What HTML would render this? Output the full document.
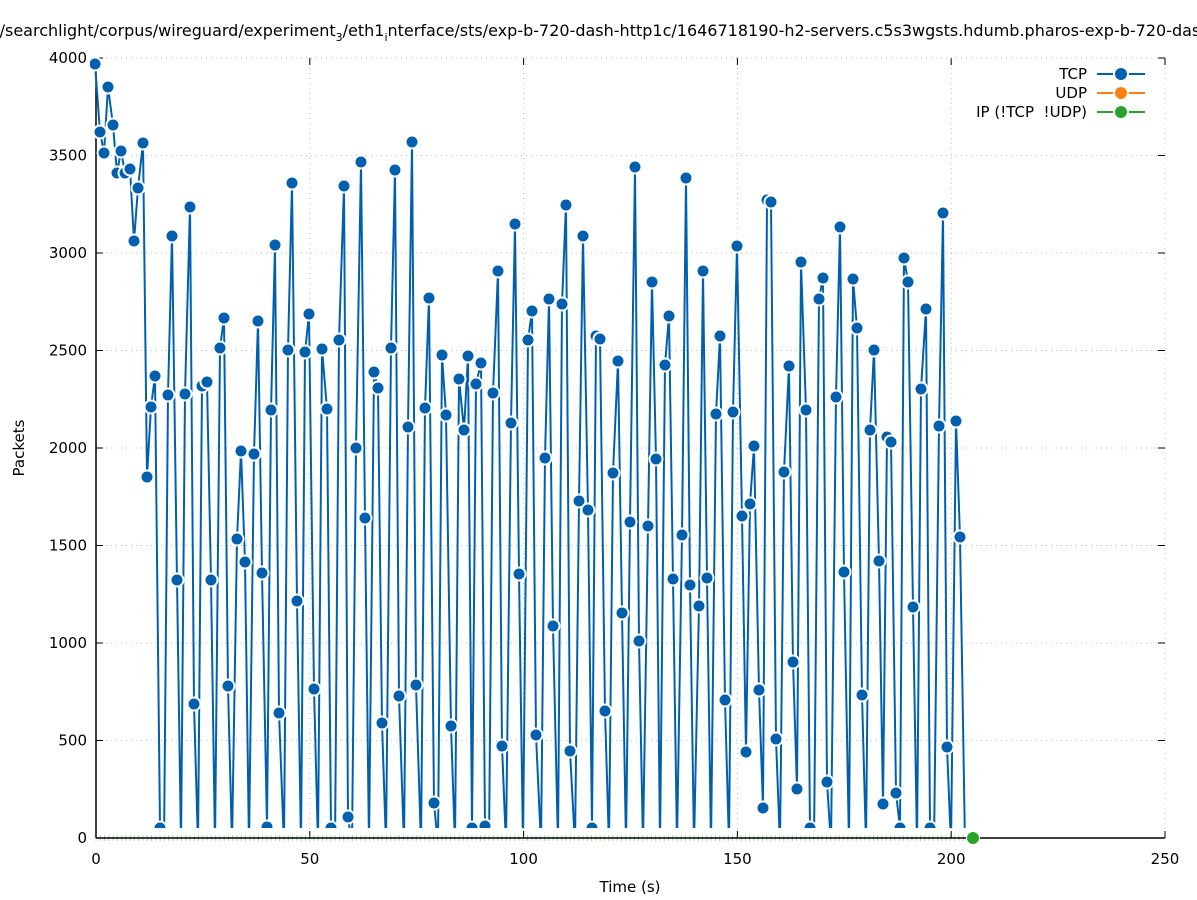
<!DOCTYPE html><html><head><meta charset="utf-8"><style>body{margin:0;background:#fff}svg{display:block;font-family:"DejaVu Sans","Liberation Sans",sans-serif}</style></head><body>
<svg id="s" width="1197" height="900" viewBox="0 0 1197 900"></svg>
<script>
const d=`95,64 100,132 104,153 108,87 113,125 117,173 121,151 125,173 130,169 134,241 138,188 143,143 147,477 151,407 155,376 160,828 164,845 168,395 172,236 177,580 181,845 185,394 190,207 194,704 198,845 202,386 207,382 211,580 215,845 220,348 224,318 228,686 232,845 237,539 241,451 245,562 249,845 254,454 258,321 262,573 267,827 271,410 275,245 279,713 284,845 288,350 292,183 297,601 301,845 305,352 309,314 314,689 318,845 322,349 327,409 331,828 335,845 339,340 344,186 348,817 352,845 356,448 361,162 365,518 369,845 374,372 378,388 382,723 386,845 391,348 395,170 399,696 404,845 408,427 412,142 416,685 421,845 425,408 429,298 434,803 438,845 442,355 446,415 451,726 455,845 459,379 464,430 468,356 472,828 476,384 481,363 485,826 489,845 493,393 498,271 502,746 506,845 511,423 515,224 519,574 523,845 528,340 532,311 536,735 541,845 545,458 549,299 553,626 558,845 562,304 566,205 570,751 575,845 579,501 583,236 588,510 592,828 596,336 600,339 605,711 609,845 613,473 618,361 622,613 626,845 630,522 635,167 639,641 643,845 648,526 652,282 656,459 660,845 665,365 669,316 673,579 677,845 682,535 686,178 690,585 694,845 699,606 703,271 707,578 711,845 716,414 720,336 725,700 729,845 733,412 737,246 742,516 746,752 750,504 754,446 759,690 763,808 767,200 771,202 776,739 780,845 784,472 789,366 793,662 797,789 801,262 806,410 810,828 814,845 819,299 823,278 827,782 831,845 836,397 840,227 844,572 849,845 853,279 857,328 862,695 866,845 870,430 874,350 879,561 883,804 887,437 891,442 896,793 900,828 904,258 908,282 913,607 917,845 921,389 926,309 930,828 934,845 939,426 943,213 947,747 951,845 956,421 960,537 965,845`.split(' ').map(p=>p.split(',').map(Number));
let h='';
h+='<defs><clipPath id="c"><rect x="90" y="40" width="1080" height="788"/></clipPath></defs>';
const X0=96,X1=1165,Y0=838,Y1=58;
for(let i=0;i<=5;i++){const x=X0+(X1-X0)*i/5;
 if(i>0)h+=`<line x1="${x}" y1="${Y1}" x2="${x}" y2="${Y0}" stroke="#bbb" stroke-dasharray="1,4"/>`;
 h+=`<line x1="${x}" y1="${Y0}" x2="${x}" y2="${Y0-7}" stroke="#000"/><line x1="${x}" y1="${Y1}" x2="${x}" y2="${Y1+7}" stroke="#000"/>`;
 h+=`<text x="${x}" y="864" font-size="15" text-anchor="middle">${i*50}</text>`;}
for(let i=0;i<=8;i++){const y=Y0-(Y0-Y1)*i/8;
 if(i>0)h+=`<line x1="${X0}" y1="${y}" x2="${X1}" y2="${y}" stroke="#bbb" stroke-dasharray="1,4"/>`;
 h+=`<line x1="${X0}" y1="${y}" x2="${X0+7}" y2="${y}" stroke="#000"/><line x1="${X1}" y1="${y}" x2="${X1-7}" y2="${y}" stroke="#000"/>`;
 h+=`<text x="87" y="${y+5}" font-size="15" text-anchor="end">${i*500}</text>`;}
for(let t=0;t<=204;t++){const x=X0+t*4.272;h+=`<line x1="${x}" y1="835" x2="${x}" y2="841" stroke="#2ca02c" stroke-width="1" opacity=".4"/>`;}
h+=`<line x1="${X0}" y1="${Y0}" x2="${X1}" y2="${Y0}" stroke="#000" stroke-width="1.5"/><line x1="${X0}" y1="${Y1}" x2="${X0}" y2="${Y0}" stroke="#000" stroke-width="1.5"/>`;
h+=`<g clip-path="url(#c)"><polyline fill="none" stroke="#0060ad" stroke-width="2" points="${d.map(p=>p.join(',')).join(' ')}"/>`;
d.forEach(p=>{h+=`<circle cx="${p[0]}" cy="${p[1]}" r="6.5" fill="#0060ad" stroke="#fff" stroke-width="2"/>`});
h+='</g>';
h+=`<circle cx="973" cy="838" r="6.5" fill="#2ca02c" stroke="#fff" stroke-width="1"/>`;
h+=`<text x="605" y="36" font-size="16" text-anchor="middle">/searchlight/corpus/wireguard/experiment<tspan font-size="11" dy="5">3</tspan><tspan dy="-5">/eth1</tspan><tspan font-size="11" dy="5">i</tspan><tspan dy="-5">nterface/sts/exp-b-720-dash-http1c/1646718190-h2-servers.c5s3wgsts.hdumb.pharos-exp-b-720-dash</tspan></text>`;
h+=`<text x="630" y="892" font-size="15" text-anchor="middle">Time (s)</text>`;
h+=`<text transform="translate(24,448) rotate(-90)" font-size="15" text-anchor="middle">Packets</text>`;
[['TCP','#0060ad'],['UDP','#ff7f0e'],['IP (!TCP  !UDP)','#2ca02c']].forEach((l,i)=>{const y=74+i*19;
 h+=`<text x="1087" y="${y+5}" font-size="15" text-anchor="end" xml:space="preserve">${l[0]}</text><line x1="1097" y1="${y}" x2="1145" y2="${y}" stroke="${l[1]}" stroke-width="2"/><circle cx="1121" cy="${y}" r="7" fill="${l[1]}" stroke="#fff" stroke-width="2"/>`;});
document.getElementById('s').innerHTML=h;
</script></body></html>
